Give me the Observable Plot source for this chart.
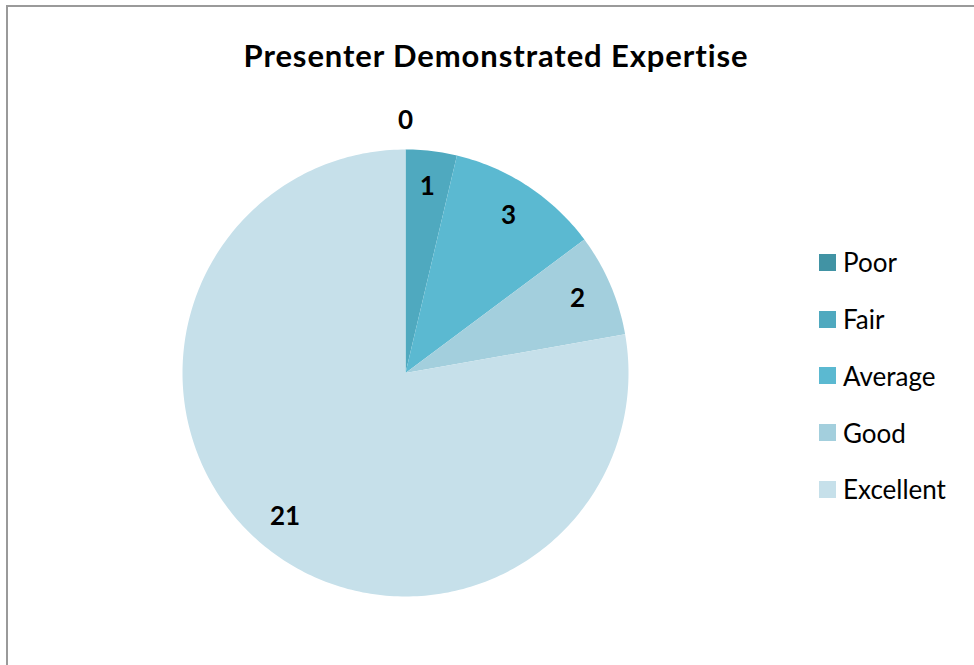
<!DOCTYPE html>
<html>
<head>
<meta charset="utf-8">
<script src="https://cdn.jsdelivr.net/npm/d3@7"></script>
<script src="https://cdn.jsdelivr.net/npm/@observablehq/plot@0.6"></script>
<style>
  html, body { margin: 0; padding: 0; background: #fff; }
  #wrap { position: relative; width: 974px; height: 665px; overflow: hidden; font-family: Lato, "Open Sans", sans-serif; }
  #frame { position: absolute; left: 6px; top: 5px; width: 1000px; height: 700px; border-left: 2px solid #9a9a9a; border-top: 2px solid #9a9a9a; }
  #title { position: absolute; left: 0; width: 992px; top: 38px; text-align: center; font-weight: bold; font-size: 31px; letter-spacing: 0.9px; line-height: 34px; color: #000; white-space: nowrap; }
  #chart { position: absolute; left: 0; top: 0; }
  #legend { position: absolute; left: 819px; top: 234px; }
  .row { display: flex; align-items: center; height: 56.75px; margin-top: 0; }
  .sw { width: 17px; height: 17px; margin-right: 7px; }
  .lab { font-size: 26px; line-height: 30px; color: #000; }
</style>
</head>
<body>
<div id="wrap">
  <div id="frame"></div>
  <div id="chart"></div>
  <div id="title">Presenter Demonstrated Expertise</div>
  <div id="legend"></div>
</div>
<script>
const categories = ["Poor", "Fair", "Average", "Good", "Excellent"];
const counts = [0, 1, 3, 2, 21];
const colors = ["#4193a4", "#4fa9bf", "#5bb9d1", "#a3cfdd", "#c6e0ea"];

const total = d3.sum(counts);
const slices = [];
const labels = [];
let acc = 0;
categories.forEach((cat, i) => {
  const a0 = acc / total * 2 * Math.PI;
  acc += counts[i];
  const a1 = acc / total * 2 * Math.PI;
  const n = Math.max(2, Math.ceil((a1 - a0) / (Math.PI / 180)));
  slices.push({cat, order: i, x: 0, y: 0});
  for (let k = 0; k <= n; k++) {
    const a = a0 + (a1 - a0) * k / n;
    slices.push({cat, order: i, x: Math.sin(a), y: Math.cos(a)});
  }
  slices.push({cat, order: i, x: 0, y: 0});
  const am = (a0 + a1) / 2;
  const r = counts[i] === 0 ? 1.13 : 0.84;
  labels.push({cat, value: counts[i], x: r * Math.sin(am), y: r * Math.cos(am)});
});

const W = 974, H = 665;
const chart = Plot.plot({
  width: W,
  height: H,
  marginLeft: 182,
  marginRight: W - 628,
  marginTop: 149,
  marginBottom: H - 596,
  x: {domain: [-1, 1], axis: null},
  y: {domain: [-1, 1], axis: null},
  color: {domain: categories, range: colors},
  style: {background: "transparent", overflow: "visible"},
  marks: [
    Plot.line(slices, {x: "x", y: "y", z: "cat", fill: "cat", stroke: null, curve: "linear"}),
    Plot.text(labels, {x: "x", y: "y", text: d => String(d.value), fontSize: 26, fontWeight: "bold", fill: "#000", fontFamily: "Lato, sans-serif"})
  ]
});
document.getElementById("chart").appendChild(chart);

const color = chart.scale("color");
const legend = document.getElementById("legend");
categories.forEach(cat => {
  const row = document.createElement("div");
  row.className = "row";
  const sw = document.createElement("div");
  sw.className = "sw";
  sw.style.background = color.apply(cat);
  const lab = document.createElement("div");
  lab.className = "lab";
  lab.textContent = cat;
  row.appendChild(sw);
  row.appendChild(lab);
  legend.appendChild(row);
});
</script>
</body>
</html>
